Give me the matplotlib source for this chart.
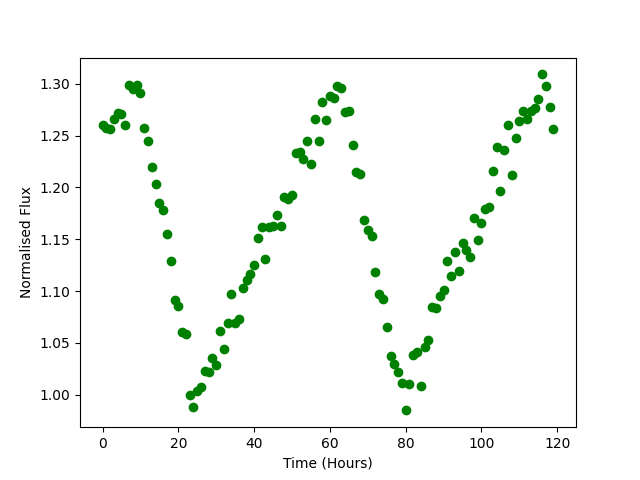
import numpy
import matplotlib
matplotlib.use('Agg')
import matplotlib.pyplot as plt

# Tempo em horas (0..119)
time_hours = list(range(120))

# Fluxo normalizado
flux = [
    1.260, 1.257, 1.256, 1.266, 1.272, 1.271, 1.260, 1.299, 1.295, 1.299,
    1.291, 1.257, 1.245, 1.220, 1.203, 1.185, 1.178, 1.155, 1.129, 1.091,
    1.086, 1.061, 1.059, 1.000, 0.988, 1.004, 1.008, 1.023, 1.022, 1.036,
    1.029, 1.062, 1.044, 1.069, 1.097, 1.069, 1.073, 1.103, 1.111, 1.117,
    1.125, 1.151, 1.162, 1.131, 1.162, 1.163, 1.173, 1.163, 1.191, 1.189,
    1.193, 1.233, 1.234, 1.227, 1.245, 1.223, 1.266, 1.245, 1.282, 1.265,
    1.288, 1.286, 1.298, 1.296, 1.273, 1.274, 1.241, 1.215, 1.213, 1.169,
    1.159, 1.153, 1.118, 1.097, 1.092, 1.065, 1.037, 1.030, 1.022, 1.011,
    0.985, 1.010, 1.038, 1.041, 1.009, 1.046, 1.053, 1.085, 1.084, 1.095,
    1.101, 1.129, 1.115, 1.138, 1.119, 1.146, 1.140, 1.133, 1.171, 1.149,
    1.166, 1.179, 1.181, 1.216, 1.239, 1.197, 1.236, 1.260, 1.212, 1.248,
    1.264, 1.274, 1.266, 1.274, 1.277, 1.285, 1.309, 1.298, 1.278, 1.256,
]

plt.figure(figsize=(6.4, 4.8), dpi=100)
plt.plot(time_hours, flux, 'o', color='green')
plt.xlabel('Time (Hours)')
plt.ylabel('Normalised Flux')
plt.savefig('out.png')
